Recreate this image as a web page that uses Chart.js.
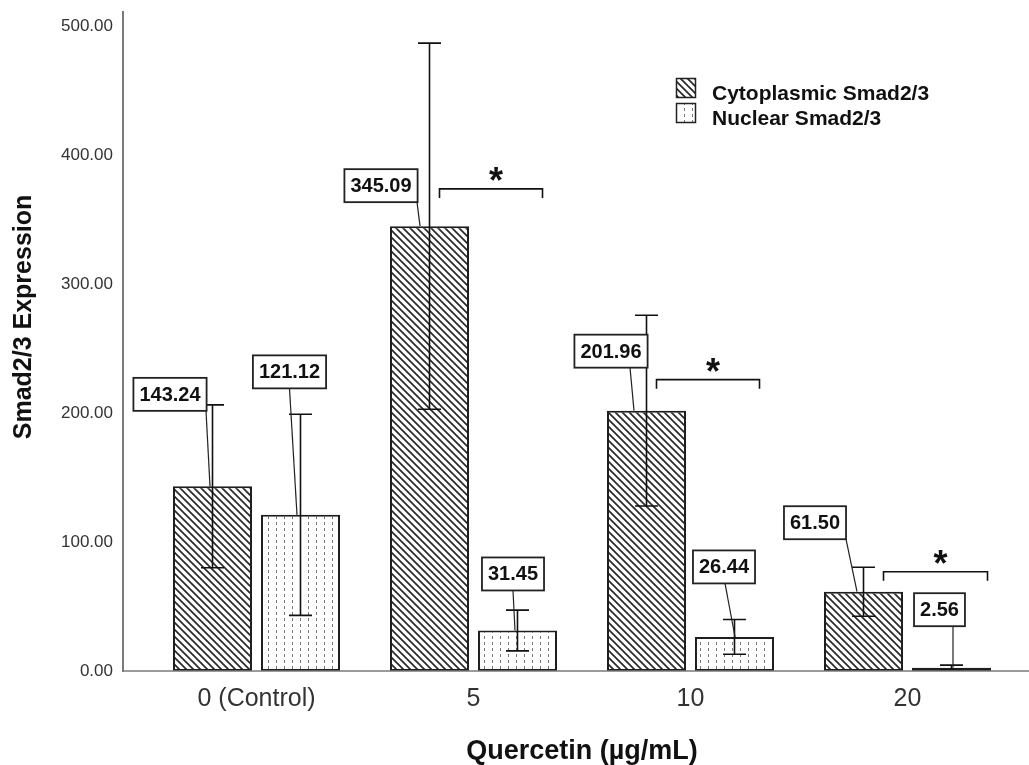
<!DOCTYPE html>
<html>
<head>
<meta charset="utf-8">
<script src="https://cdn.jsdelivr.net/npm/chart.js@4.4.0/dist/chart.umd.min.js"></script>
<style>
    html, body { margin: 0; padding: 0; background: #fff; }
</style>
</head>
<body>
<canvas id="smadChart" width="1029" height="765"></canvas>
<script>
// Chart data
const doses = ['0 (Control)', '5', '10', '20'];
const seriesNames = ['Cytoplasmic Smad2/3', 'Nuclear Smad2/3'];
const cytoMeans = [143.24, 345.09, 201.96, 61.50];
const nucMeans = [121.12, 31.45, 26.44, 2.56];
const cytoErr = [63.2, 142.0, 74.0, 19.0];
const nucErr = [78.0, 15.8, 13.5, 2.0];
const sigMarks = ['', '*', '*', '*'];
const sigLevels = [null, 374, 226, 77];

// Label box placement (pixels, relative to bar top): [dx, dy, leaderStartDx, leaderEndDx]
const cytoLabelPos = [[-42.5, -92, 36, -2.5], [-48.5, -40.5, 36, -9.5], [-35.5, -59.5, 19, -12.5], [-48.5, -69, 31, -6.5]];
const nucLabelPos = [[-11, -143, 0, -3.5], [-4.5, -56.5, 0, -2.5], [-10.5, -70, 1, 0.5], [-12, -58, 13.5, 1.5]];
// Significance bracket span (pixels, relative to category centre)
const bracketSpan = [null, [-34, 69], [-34, 69], [-24, 80]];

const FONT = "'Liberation Sans', Arial, sans-serif";
Chart.defaults.font.family = FONT;

const canvas = document.getElementById('smadChart');
const ctx = canvas.getContext('2d');

// Diagonal hatch for cytoplasmic bars
function makeHatch() {
    const c = document.createElement('canvas');
    c.width = 7; c.height = 7;
    const g = c.getContext('2d');
    g.fillStyle = '#fff';
    g.fillRect(0, 0, 7, 7);
    g.strokeStyle = '#2a2a2a';
    g.lineWidth = 1.7;
    g.beginPath();
    g.moveTo(-1, -1); g.lineTo(8, 8);
    g.moveTo(-1, 6); g.lineTo(1, 8);
    g.moveTo(6, -1); g.lineTo(8, 1);
    g.stroke();
    return ctx.createPattern(c, 'repeat');
}

// Dotted vertical lines for nuclear bars
function makeDots() {
    const c = document.createElement('canvas');
    c.width = 8; c.height = 6;
    const g = c.getContext('2d');
    g.fillStyle = '#fff';
    g.fillRect(0, 0, 8, 6);
    g.fillStyle = '#777';
    g.fillRect(4, 0, 1, 3);
    return ctx.createPattern(c, 'repeat');
}

const hatchFill = makeHatch();
const dotFill = makeDots();

const errorsBySet = [cytoErr, nucErr];
const meansBySet = [cytoMeans, nucMeans];
const labelPosBySet = [cytoLabelPos, nucLabelPos];

const annotatePlugin = {
    id: 'annotate',
    afterDatasetsDraw(chart) {
        const c = chart.ctx;
        const yS = chart.scales.y;
        const xS = chart.scales.x;

        // error bars
        c.save();
        c.strokeStyle = '#111';
        c.lineWidth = 1.6;
        chart.data.datasets.forEach((ds, di) => {
            const meta = chart.getDatasetMeta(di);
            meta.data.forEach((bar, i) => {
                const m = meansBySet[di][i];
                const e = errorsBySet[di][i];
                const yTop = yS.getPixelForValue(m + e);
                const yBot = yS.getPixelForValue(Math.max(0, m - e));
                c.beginPath();
                c.moveTo(bar.x, yTop); c.lineTo(bar.x, yBot);
                c.moveTo(bar.x - 11.5, yTop); c.lineTo(bar.x + 11.5, yTop);
                c.moveTo(bar.x - 11.5, yBot); c.lineTo(bar.x + 11.5, yBot);
                c.stroke();
            });
        });

        // value label boxes with leader lines
        c.font = 'bold 20px ' + FONT;
        c.textAlign = 'center';
        c.textBaseline = 'middle';
        chart.data.datasets.forEach((ds, di) => {
            const meta = chart.getDatasetMeta(di);
            meta.data.forEach((bar, i) => {
                const p = labelPosBySet[di][i];
                const txt = meansBySet[di][i].toFixed(2);
                const w = c.measureText(txt).width + 12;
                const h = 33;
                const cx = bar.x + p[0];
                const cy = bar.y + p[1];
                c.strokeStyle = '#222';
                c.lineWidth = 1.2;
                c.beginPath();
                c.moveTo(cx + p[2], cy + h / 2);
                c.lineTo(bar.x + p[3], bar.y);
                c.stroke();
                c.fillStyle = '#fff';
                c.fillRect(cx - w / 2, cy - h / 2, w, h);
                c.lineWidth = 1.8;
                c.strokeRect(cx - w / 2, cy - h / 2, w, h);
                c.fillStyle = '#111';
                c.fillText(txt, cx, cy + 1);
            });
        });

        // significance brackets
        c.strokeStyle = '#111';
        c.lineWidth = 1.6;
        c.fillStyle = '#111';
        c.font = 'bold 36px ' + FONT;
        sigLevels.forEach((lvl, i) => {
            if (lvl === null) return;
            const cx = xS.getPixelForValue(i);
            const y = yS.getPixelForValue(lvl);
            const x1 = cx + bracketSpan[i][0];
            const x2 = cx + bracketSpan[i][1];
            c.beginPath();
            c.moveTo(x1, y + 9); c.lineTo(x1, y); c.lineTo(x2, y); c.lineTo(x2, y + 9);
            c.stroke();
            c.textBaseline = 'alphabetic';
            c.fillText(sigMarks[i], (x1 + x2) / 2 + 5, y + 4);
        });
        c.restore();
    },
    afterDraw(chart) {
        const c = chart.ctx;
        const area = chart.chartArea;
        c.save();
        // axis lines
        c.strokeStyle = '#7a7a7a';
        c.lineWidth = 2;
        c.beginPath();
        c.moveTo(123, area.top);
        c.lineTo(123, area.bottom + 1);
        c.stroke();
        c.lineWidth = 1.6;
        c.beginPath();
        c.moveTo(122, area.bottom);
        c.lineTo(chart.width, area.bottom);
        c.stroke();

        // y axis title (sits a little above the plot's middle, as in the figure)
        c.save();
        c.translate(24, 317);
        c.rotate(-Math.PI / 2);
        c.font = 'bold 25px ' + FONT;
        c.fillStyle = '#111';
        c.textAlign = 'center';
        c.textBaseline = 'middle';
        c.fillText('Smad2/3 Expression', 0, 0);
        c.restore();

        // legend
        const fills = [hatchFill, dotFill];
        const lx = area.right - 340;
        c.font = 'bold 21px ' + FONT;
        c.textAlign = 'left';
        c.textBaseline = 'alphabetic';
        seriesNames.forEach((name, i) => {
            const ly = area.top + 67 + i * 25;
            c.fillStyle = fills[i];
            c.fillRect(lx, ly, 20, 20);
            c.strokeStyle = '#222';
            c.lineWidth = 1.5;
            c.strokeRect(lx + 0.5, ly + 0.5, 19, 19);
            c.fillStyle = '#111';
            c.fillText(name, lx + 36, ly + 21.5);
        });
        c.restore();
    }
};

new Chart(ctx, {
    type: 'bar',
    data: {
        labels: doses,
        datasets: [
            {
                label: seriesNames[0],
                data: cytoMeans,
                backgroundColor: hatchFill,
                borderColor: '#1e1e1e',
                borderWidth: 2,
                borderSkipped: false
            },
            {
                label: seriesNames[1],
                data: nucMeans,
                backgroundColor: dotFill,
                borderColor: '#1e1e1e',
                borderWidth: 2,
                borderSkipped: false
            }
        ]
    },
    options: {
        responsive: false,
        animation: false,
        devicePixelRatio: 1,
        categoryPercentage: 0.811,
        barPercentage: 0.898,
        layout: {
            padding: { top: 11, right: 13, left: 0, bottom: 0 }
        },
        plugins: {
            legend: { display: false },
            tooltip: { enabled: false }
        },
        scales: {
            y: {
                min: 0,
                max: 512,
                border: { display: false },
                // tick marks are hidden; tickLength only pushes the labels left
                grid: { display: false, drawTicks: true, tickLength: 35 },
                ticks: {
                    stepSize: 100,
                    includeBounds: false,
                    padding: 0,
                    color: '#333',
                    font: { size: 17 },
                    callback: v => Number(v).toFixed(2)
                },
                afterFit(scale) { scale.width = 148; }
            },
            x: {
                border: { display: false },
                grid: { display: false, drawTicks: false },
                ticks: {
                    padding: 13,
                    color: '#333',
                    font: { size: 25 }
                },
                title: {
                    display: true,
                    text: 'Quercetin (µg/mL)',
                    color: '#111',
                    font: { size: 27, weight: 'bold', lineHeight: 1.0 },
                    padding: { top: 0, bottom: 0 }
                },
                afterFit(scale) { scale.height = 94; }
            }
        }
    },
    plugins: [annotatePlugin]
});
</script>
</body>
</html>
